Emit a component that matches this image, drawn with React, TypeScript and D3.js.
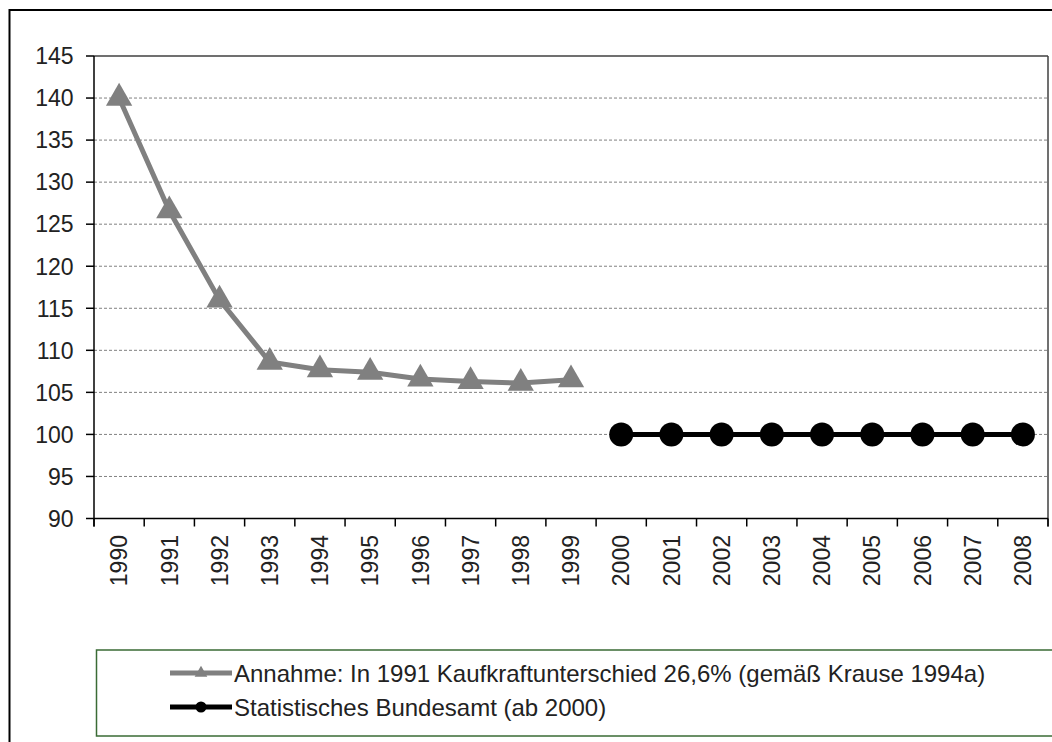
import React from "react";
import * as d3 from "d3";

const years = ["1990","1991","1992","1993","1994","1995","1996","1997","1998","1999","2000","2001","2002","2003","2004","2005","2006","2007","2008"];
const annahmeYears = ["1990","1991","1992","1993","1994","1995","1996","1997","1998","1999"];
const annahmeValues = [140, 126.6, 116, 108.6, 107.7, 107.4, 106.6, 106.3, 106.1, 106.5];
const bundesamtYears = ["2000","2001","2002","2003","2004","2005","2006","2007","2008"];
const bundesamtValues = [100, 100, 100, 100, 100, 100, 100, 100, 100];
const yTicks = [90, 95, 100, 105, 110, 115, 120, 125, 130, 135, 140, 145];
const legendLabels = [
  "Annahme: In 1991 Kaufkraftunterschied 26,6% (gemäß Krause 1994a)",
  "Statistisches Bundesamt (ab 2000)",
];

const W = 1052, H = 742;
const plotL = 94, plotR = 1048, plotT = 56, plotB = 518.5;
const font = "'Liberation Sans', Arial, sans-serif";
const gray = "#808080";

export default function App() {
  const x = d3.scaleBand<string>().domain(years).range([plotL, plotR]);
  const y = d3.scaleLinear().domain([90, 145]).range([plotB, plotT]);
  const cx = (yr: string) => (x(yr) as number) + x.bandwidth() / 2;

  const line = d3.line<[string, number]>().x(d => cx(d[0])).y(d => y(d[1]));
  const grayData: [string, number][] = annahmeYears.map((yr, i) => [yr, annahmeValues[i]]);
  const blackData: [string, number][] = bundesamtYears.map((yr, i) => [yr, bundesamtValues[i]]);

  const tri = d3.symbol().type(d3.symbolTriangle).size(300)();
  const triSmall = d3.symbol().type(d3.symbolTriangle).size(70)();

  const tickXs = years.map(yr => x(yr) as number).concat([plotR]);

  return (
    <svg width={W} height={H} style={{ position: "absolute", left: 0, top: 0, background: "#fff" }} fontFamily={font}>
      <rect x={0} y={0} width={W} height={H} fill="#fff" />
      {/* outer chart frame (cropped) */}
      <rect x={9.5} y={10} width={1200} height={900} fill="none" stroke="#000" strokeWidth={2} />

      {/* gridlines */}
      {yTicks.filter(t => t !== 90 && t !== 145).map(t => (
        <line key={"g" + t} x1={plotL} x2={plotR} y1={y(t)} y2={y(t)} stroke={gray} strokeWidth={1} strokeDasharray="3,2" />
      ))}

      {/* plot border */}
      <line x1={plotL} x2={plotR} y1={plotT} y2={plotT} stroke="#404040" strokeWidth={1.5} />
      <line x1={plotR} x2={plotR} y1={plotT} y2={plotB + 8} stroke="#404040" strokeWidth={1.5} />

      {/* y axis */}
      <line x1={plotL} x2={plotL} y1={plotT} y2={plotB + 8} stroke="#000" strokeWidth={1.5} />
      {yTicks.map(t => (
        <g key={"y" + t}>
          <line x1={plotL - 8} x2={plotL} y1={y(t)} y2={y(t)} stroke="#000" strokeWidth={1.5} />
          <text x={73.5} y={y(t)} dy="0.36em" textAnchor="end" fontSize={23} fill="#222">{t}</text>
        </g>
      ))}

      {/* x axis */}
      <line x1={plotL} x2={plotR} y1={plotB} y2={plotB} stroke="#000" strokeWidth={1.5} />
      {tickXs.map((tx, i) => (
        <line key={"xt" + i} x1={tx} x2={tx} y1={plotB} y2={plotB + 8} stroke="#000" strokeWidth={1.5} />
      ))}
      {years.map(yr => (
        <text key={"xl" + yr} transform={`translate(${cx(yr) + 8.2},535) rotate(-90)`} textAnchor="end" fontSize={23} fill="#222">{yr}</text>
      ))}

      {/* gray series */}
      <path d={line(grayData) as string} fill="none" stroke={gray} strokeWidth={5} strokeLinejoin="round" />
      {grayData.map(d => (
        <path key={"t" + d[0]} d={tri as string} transform={`translate(${cx(d[0])},${y(d[1])})`} fill={gray} />
      ))}

      {/* black series */}
      <path d={line(blackData) as string} fill="none" stroke="#000" strokeWidth={5} />
      {blackData.map(d => (
        <circle key={"c" + d[0]} cx={cx(d[0])} cy={y(d[1])} r={12} fill="#000" />
      ))}

      {/* legend */}
      <rect x={96.5} y={650} width={1000} height={86} fill="#fff" stroke="#3a6b35" strokeWidth={1.5} />
      <line x1={170} x2={232} y1={673} y2={673} stroke={gray} strokeWidth={5} />
      <path d={triSmall as string} transform="translate(201,673)" fill={gray} />
      <text x={234} y={673} dy="0.36em" fontSize={24} fill="#222">{legendLabels[0]}</text>
      <line x1={170} x2={232} y1={707} y2={707} stroke="#000" strokeWidth={5} />
      <circle cx={201} cy={707} r={5.5} fill="#000" />
      <text x={234} y={707} dy="0.36em" fontSize={24} fill="#222">{legendLabels[1]}</text>
    </svg>
  );
}
